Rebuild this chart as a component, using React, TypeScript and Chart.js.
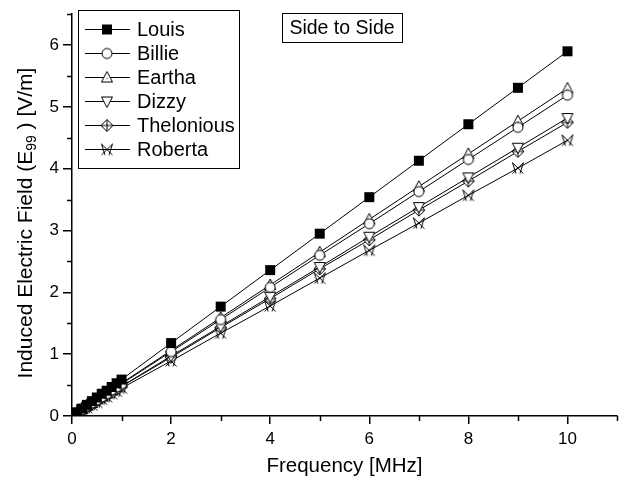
import React, { useEffect, useRef } from "react";
import { Chart, registerables } from "chart.js";

Chart.register(...registerables);

const frequencies = [0.1, 0.2, 0.3, 0.4, 0.5, 0.6, 0.7, 0.8, 0.9, 1, 2, 3, 4, 5, 6, 7, 8, 9, 10];

const louis = [0.06, 0.12, 0.18, 0.24, 0.30, 0.36, 0.41, 0.47, 0.53, 0.59, 1.18, 1.77, 2.36, 2.95, 3.54, 4.13, 4.72, 5.31, 5.90];
const billie = [0.05, 0.10, 0.16, 0.21, 0.26, 0.31, 0.36, 0.42, 0.47, 0.52, 1.04, 1.56, 2.08, 2.60, 3.11, 3.63, 4.15, 4.67, 5.19];
const eartha = [0.05, 0.11, 0.16, 0.21, 0.27, 0.32, 0.37, 0.43, 0.48, 0.53, 1.06, 1.59, 2.12, 2.65, 3.18, 3.71, 4.24, 4.77, 5.30];
const dizzy = [0.05, 0.10, 0.14, 0.19, 0.24, 0.29, 0.34, 0.39, 0.43, 0.48, 0.97, 1.45, 1.93, 2.41, 2.90, 3.38, 3.86, 4.34, 4.82];
const thelonious = [0.05, 0.10, 0.14, 0.19, 0.24, 0.29, 0.33, 0.38, 0.43, 0.48, 0.95, 1.43, 1.90, 2.38, 2.85, 3.33, 3.80, 4.28, 4.75];
const roberta = [0.04, 0.09, 0.13, 0.18, 0.22, 0.27, 0.31, 0.36, 0.40, 0.45, 0.89, 1.34, 1.78, 2.23, 2.68, 3.12, 3.57, 4.01, 4.46];

const seriesNames = ["Louis", "Billie", "Eartha", "Dizzy", "Thelonious", "Roberta"];
const seriesValues = [louis, billie, eartha, dizzy, thelonious, roberta];
const markerKinds = ["square", "circle", "triUp", "triDown", "diamondCross", "xHour"];

const xMajorTicks = [0, 2, 4, 6, 8, 10];
const xMinorTicks = [1, 3, 5, 7, 9, 11];
const yMajorTicks = [0, 1, 2, 3, 4, 5, 6];
const yMinorTicks = [0.5, 1.5, 2.5, 3.5, 4.5, 5.5, 6.5];

const FONT = "'Liberation Sans', Arial, Helvetica, sans-serif";

function makeMarker(kind: string): HTMLCanvasElement {
  const s = 16;
  const c = document.createElement("canvas");
  c.width = s;
  c.height = s;
  const g = c.getContext("2d")!;
  const m = s / 2;
  g.lineWidth = 1;
  g.strokeStyle = "#000";
  g.fillStyle = "#fff";
  g.lineJoin = "miter";
  if (kind === "square") {
    g.fillStyle = "#000";
    g.fillRect(m - 5, m - 5, 10, 10);
  } else if (kind === "circle") {
    g.beginPath();
    g.arc(m, m, 5, 0, Math.PI * 2);
    g.fill();
    g.stroke();
  } else if (kind === "triUp") {
    g.beginPath();
    g.moveTo(m, m - 6);
    g.lineTo(m + 5.5, m + 4.5);
    g.lineTo(m - 5.5, m + 4.5);
    g.closePath();
    g.fill();
    g.stroke();
    g.fillStyle = "#000";
    g.fillRect(m - 0.5, m + 0.5, 1, 1);
  } else if (kind === "triDown") {
    g.beginPath();
    g.moveTo(m, m + 6);
    g.lineTo(m + 5.5, m - 4.5);
    g.lineTo(m - 5.5, m - 4.5);
    g.closePath();
    g.fill();
    g.stroke();
  } else if (kind === "diamondCross") {
    g.beginPath();
    g.moveTo(m, m - 6);
    g.lineTo(m + 6, m);
    g.lineTo(m, m + 6);
    g.lineTo(m - 6, m);
    g.closePath();
    g.fill();
    g.stroke();
    g.beginPath();
    g.moveTo(m, m - 6);
    g.lineTo(m, m + 6);
    g.moveTo(m - 6, m);
    g.lineTo(m + 6, m);
    g.stroke();
  } else if (kind === "xHour") {
    g.beginPath();
    g.moveTo(m - 5.5, m - 5.5);
    g.lineTo(m + 5.5, m + 5.5);
    g.moveTo(m + 5.5, m - 5.5);
    g.lineTo(m - 5.5, m + 5.5);
    g.moveTo(m - 5.5, m - 5.5);
    g.lineTo(m - 2, m + 5.5);
    g.moveTo(m + 5.5, m - 5.5);
    g.lineTo(m + 2, m + 5.5);
    g.stroke();
  }
  return c;
}

export default function App() {
  const ref = useRef<HTMLCanvasElement | null>(null);

  useEffect(() => {
    document.body.style.margin = "0";
    const canvas = ref.current;
    if (!canvas) return;
    const markers = markerKinds.map(makeMarker);

    const overlay = {
      id: "overlay",
      afterDraw(chart: any) {
        const ctx = chart.ctx as CanvasRenderingContext2D;
        const area = chart.chartArea;
        const xs = chart.scales.x;
        const ys = chart.scales.y;
        ctx.save();
        // minor ticks
        ctx.strokeStyle = "#000";
        ctx.lineWidth = 1.5;
        ctx.beginPath();
        xMinorTicks.forEach((v) => {
          const px = Math.round(xs.getPixelForValue(v)) + 0.5;
          ctx.moveTo(px, area.bottom);
          ctx.lineTo(px, area.bottom + 5);
        });
        yMinorTicks.forEach((v) => {
          const py = Math.round(ys.getPixelForValue(v)) + 0.5;
          ctx.moveTo(area.left - 5, py);
          ctx.lineTo(area.left, py);
        });
        ctx.stroke();

        // axis titles
        ctx.fillStyle = "#000";
        ctx.font = `20.5px ${FONT}`;
        ctx.textAlign = "center";
        ctx.textBaseline = "middle";
        ctx.fillText("Frequency [MHz]", (area.left + area.right) / 2, 466);

        // y title with subscript
        const p1 = "Induced Electric Field (E";
        const sub = "99";
        const p2 = " ) [V/m]";
        ctx.font = `21px ${FONT}`;
        const w1 = ctx.measureText(p1).width;
        const w3 = ctx.measureText(p2).width;
        ctx.font = `14px ${FONT}`;
        const w2 = ctx.measureText(sub).width;
        const total = w1 + w2 + w3;
        ctx.translate(24, 223);
        ctx.rotate(-Math.PI / 2);
        ctx.textAlign = "left";
        ctx.textBaseline = "alphabetic";
        let cx = -total / 2;
        ctx.font = `21px ${FONT}`;
        ctx.fillText(p1, cx, 8);
        cx += w1;
        ctx.font = `14px ${FONT}`;
        ctx.fillText(sub, cx, 12);
        cx += w2;
        ctx.font = `21px ${FONT}`;
        ctx.fillText(p2, cx, 8);
        ctx.setTransform(1, 0, 0, 1, 0, 0);
        ctx.restore();

        ctx.save();
        // title box
        ctx.lineWidth = 1;
        ctx.strokeStyle = "#000";
        ctx.fillStyle = "#fff";
        ctx.fillRect(282, 13, 120, 29);
        ctx.strokeRect(282.5, 13.5, 120, 29);
        ctx.fillStyle = "#000";
        ctx.font = `19.5px ${FONT}`;
        ctx.textAlign = "center";
        ctx.textBaseline = "middle";
        ctx.fillText("Side to Side", 342, 28.5);

        // legend
        ctx.fillStyle = "#fff";
        ctx.fillRect(78, 10, 161, 158);
        ctx.strokeRect(78.5, 10.5, 161, 158);
        ctx.textAlign = "left";
        seriesNames.forEach((name, i) => {
          const y = 29 + i * 24;
          ctx.strokeStyle = "#000";
          ctx.lineWidth = 1;
          ctx.beginPath();
          ctx.moveTo(85, y + 0.5);
          ctx.lineTo(130, y + 0.5);
          ctx.stroke();
          const mk = markers[i];
          ctx.drawImage(mk, 107 - mk.width / 2, y - mk.height / 2 + 0.5);
          ctx.fillStyle = "#000";
          ctx.font = `20px ${FONT}`;
          ctx.fillText(name, 137, y + 1);
        });
        ctx.restore();
      },
    };

    const chart = new Chart(canvas, {
      type: "line",
      data: {
        datasets: seriesNames.map((name, i) => ({
          label: name,
          data: frequencies.map((f, j) => ({ x: f, y: seriesValues[i][j] })),
          borderColor: "#000",
          borderWidth: 1,
          backgroundColor: "#fff",
          pointStyle: markers[i] as any,
          pointRadius: 6,
          tension: 0,
          fill: false,
        })),
      },
      options: {
        animation: false,
        responsive: false,
        devicePixelRatio: 1,
        layout: { padding: { left: 0, top: 13, right: 6, bottom: 0 } },
        plugins: {
          legend: { display: false },
          tooltip: { enabled: false },
          title: { display: false },
        },
        scales: {
          x: {
            type: "linear",
            min: 0,
            max: 11,
            afterBuildTicks: (s: any) => {
              s.ticks = xMajorTicks.map((v) => ({ value: v }));
            },
            afterFit: (s: any) => {
              s.height = 64;
            },
            ticks: {
              color: "#000",
              font: { family: FONT, size: 17 },
              padding: 5,
              maxRotation: 0,
              callback: (v: any) => String(v),
            },
            grid: {
              display: true,
              drawOnChartArea: false,
              drawTicks: true,
              tickLength: 8,
              color: "#000",
              lineWidth: 1.5,
            },
            border: { display: true, color: "#000", width: 1.5 },
          },
          y: {
            type: "linear",
            min: 0,
            max: 6.5,
            afterBuildTicks: (s: any) => {
              s.ticks = yMajorTicks.map((v) => ({ value: v }));
            },
            afterFit: (s: any) => {
              s.width = 72;
            },
            ticks: {
              color: "#000",
              font: { family: FONT, size: 17 },
              padding: 4,
              callback: (v: any) => String(v),
            },
            grid: {
              display: true,
              drawOnChartArea: false,
              drawTicks: true,
              tickLength: 9,
              color: "#000",
              lineWidth: 1.5,
            },
            border: { display: true, color: "#000", width: 1.5 },
          },
        },
      },
      plugins: [overlay],
    });

    return () => {
      chart.destroy();
    };
  }, []);

  return (
    <div style={{ width: 624, height: 480, background: "#fff" }}>
      <canvas ref={ref} width={624} height={480} style={{ display: "block" }} />
    </div>
  );
}
